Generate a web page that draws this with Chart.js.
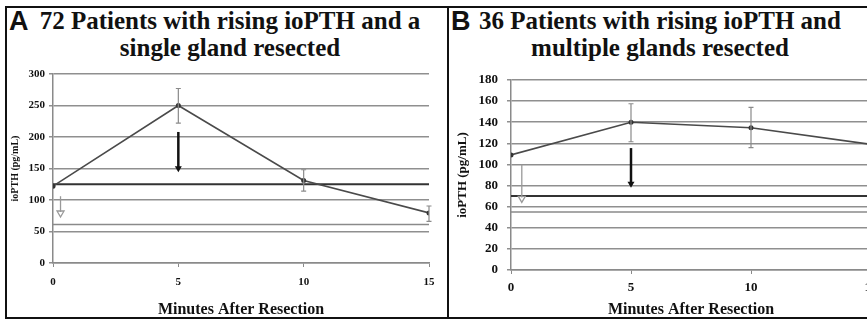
<!DOCTYPE html>
<html>
<head>
<meta charset="utf-8">
<script src="https://cdn.jsdelivr.net/npm/chart.js@4"></script>
<style>
  html, body { margin: 0; padding: 0; background: #fff; }
  #page { position: relative; width: 867px; height: 320px; overflow: hidden; background: #fff; }
  .frame { position: absolute; left: 5px; top: 6px; width: 920px; height: 309px; border: 2px solid #111; z-index: 5; pointer-events: none; }
  .divider { position: absolute; left: 447px; top: 6px; width: 2px; height: 313px; background: #111; z-index: 5; }
  .title { position: absolute; top: 7px; font-family: "Liberation Serif", "Times New Roman", serif; font-weight: bold; font-size: 25px; line-height: 27px; text-align: center; color: #111; }
  .letter { position: absolute; top: 6px; font-family: "Liberation Sans", Arial, sans-serif; font-weight: bold; font-size: 27px; color: #111; }
  canvas { position: absolute; }
</style>
</head>
<body>
<div id="page">
  <div class="frame"></div>
  <div class="divider"></div>
  <div class="letter" style="left:9px;">A</div>
  <div class="title" style="left:20px;width:420px;">72 Patients with rising ioPTH and a<br>single gland resected</div>
  <div class="letter" style="left:451px;">B</div>
  <div class="title" style="left:460px;width:400px;">36 Patients with rising ioPTH and<br>multiple glands resected</div>
  <canvas id="chartA" width="440" height="262" style="left:8px;top:60px;"></canvas>
  <canvas id="chartB" width="440" height="262" style="left:450px;top:60px;"></canvas>
</div>
<script>
const minutes = [0, 5, 10, 15];

// panel A: single gland resected
const meanA = [122, 250, 131, 79.5];
const upperA = [null, 277, 148, 90.5];
const lowerA = [null, 222, 114, 66];
const refLinesA = [125, 61];
const yTicksA = [0, 50, 100, 150, 200, 250, 300];
const arrowsA = [
  { x: 5, from: 208, to: 144, dark: true },
  { x: 0.3, from: 106, to: 73, dark: false }
];

// panel B: multiple glands resected
const meanB = [109, 140, 134.8, 119];
const upperB = [null, 157.5, 154, null];
const lowerB = [null, 121.5, 116, null];
const refLinesB = [70, 55];
const yTicksB = [0, 20, 40, 60, 80, 100, 120, 140, 160, 180];
const arrowsB = [
  { x: 5, from: 115.5, to: 78, dark: true },
  { x: 0.45, from: 100, to: 64, dark: false }
];

const serif = '"Liberation Serif", "Times New Roman", serif';

const extrasPlugin = {
  id: 'extras',
  afterDatasetsDraw(chart, args, opts) {
    const ctx = chart.ctx;
    const xs = chart.scales.x, ys = chart.scales.y;
    ctx.save();
    // error bars
    ctx.strokeStyle = '#8a8a8a';
    ctx.lineWidth = 1.2;
    opts.upper.forEach((u, i) => {
      if (u == null) return;
      const px = xs.getPixelForValue(minutes[i]);
      const top = ys.getPixelForValue(u);
      const bot = ys.getPixelForValue(opts.lower[i]);
      ctx.beginPath();
      ctx.moveTo(px, top); ctx.lineTo(px, bot);
      ctx.moveTo(px - 2.5, top); ctx.lineTo(px + 2.5, top);
      ctx.moveTo(px - 2.5, bot); ctx.lineTo(px + 2.5, bot);
      ctx.stroke();
    });
    // arrows
    opts.arrows.forEach(a => {
      const px = xs.getPixelForValue(a.x);
      const y1 = ys.getPixelForValue(a.from);
      const y2 = ys.getPixelForValue(a.to);
      const col = a.dark ? '#111' : '#999';
      ctx.strokeStyle = col;
      ctx.fillStyle = col;
      ctx.lineWidth = a.dark ? 2.5 : 1.3;
      ctx.beginPath();
      ctx.moveTo(px, y1); ctx.lineTo(px, y2 - 5);
      ctx.stroke();
      ctx.beginPath();
      ctx.moveTo(px - 3.5, y2 - 6);
      ctx.lineTo(px + 3.5, y2 - 6);
      ctx.lineTo(px, y2);
      ctx.closePath();
      if (a.dark) ctx.fill(); else ctx.stroke();
    });
    ctx.restore();
  }
};

function makeChart(id, mean, upper, lower, refs, arrows, yTicks, cfg) {
  const refSets = refs.map((v, i) => ({
    data: [{ x: 0, y: v }, { x: 15, y: v }],
    borderColor: i === 0 ? '#333' : '#8a8a8a',
    borderWidth: i === 0 ? 2 : 1.5,
    pointRadius: 0,
    order: 2
  }));
  return new Chart(document.getElementById(id), {
    type: 'line',
    data: {
      datasets: [{
        data: minutes.map((m, i) => ({ x: m, y: mean[i] })),
        borderColor: '#4a4a4a',
        borderWidth: 1.6,
        backgroundColor: '#333',
        pointRadius: 2.5,
        pointBorderWidth: 0,
        tension: 0,
        order: 0
      }, ...refSets]
    },
    options: {
      responsive: false,
      animation: false,
      layout: { padding: { top: cfg.top, right: 19, left: 0, bottom: 0 } },
      plugins: {
        legend: { display: false },
        tooltip: { enabled: false },
        extras: { upper: upper, lower: lower, arrows: arrows }
      },
      scales: {
        x: {
          type: 'linear',
          min: 0, max: 15,
          afterFit: s => { s.height = 262 - cfg.bottom; },
          afterBuildTicks: s => { s.ticks = minutes.map(v => ({ value: v })); },
          grid: { drawOnChartArea: false, color: '#8a8a8a', tickLength: 4 },
          border: { color: '#8a8a8a', width: 1.5 },
          ticks: { color: '#111', padding: cfg.xPad, font: { family: serif, weight: 'bold', size: cfg.tick } },
          title: {
            display: true, text: 'Minutes After Resection', color: '#111',
            padding: { top: 0, bottom: 3 },
            font: { family: serif, weight: 'bold', size: 16 }
          }
        },
        y: {
          min: 0, max: yTicks[yTicks.length - 1],
          afterFit: s => { s.width = cfg.left; },
          afterBuildTicks: s => { s.ticks = yTicks.map(v => ({ value: v })); },
          grid: { color: '#8f8f8f', lineWidth: 1.5, tickLength: 4 },
          border: { color: '#8a8a8a', width: 1.5 },
          ticks: { color: '#111', padding: cfg.yPad, font: { family: serif, weight: 'bold', size: cfg.tick } },
          title: {
            display: true, text: 'ioPTH (pg/mL)', color: '#111',
            padding: { top: cfg.yTitlePad, bottom: 0 },
            font: { family: serif, weight: 'bold', size: cfg.yTitle }
          }
        }
      }
    },
    plugins: [extrasPlugin]
  });
}

makeChart('chartA', meanA, upperA, lowerA, refLinesA, arrowsA, yTicksA,
  { top: 14, bottom: 203, left: 45, tick: 11, xPad: 9, yPad: 4, yTitle: 10, yTitlePad: 1 });
makeChart('chartB', meanB, upperB, lowerB, refLinesB, arrowsB, yTicksB,
  { top: 20, bottom: 210, left: 61, tick: 13, xPad: 6, yPad: 9, yTitle: 13, yTitlePad: 5 });
</script>
</body>
</html>
